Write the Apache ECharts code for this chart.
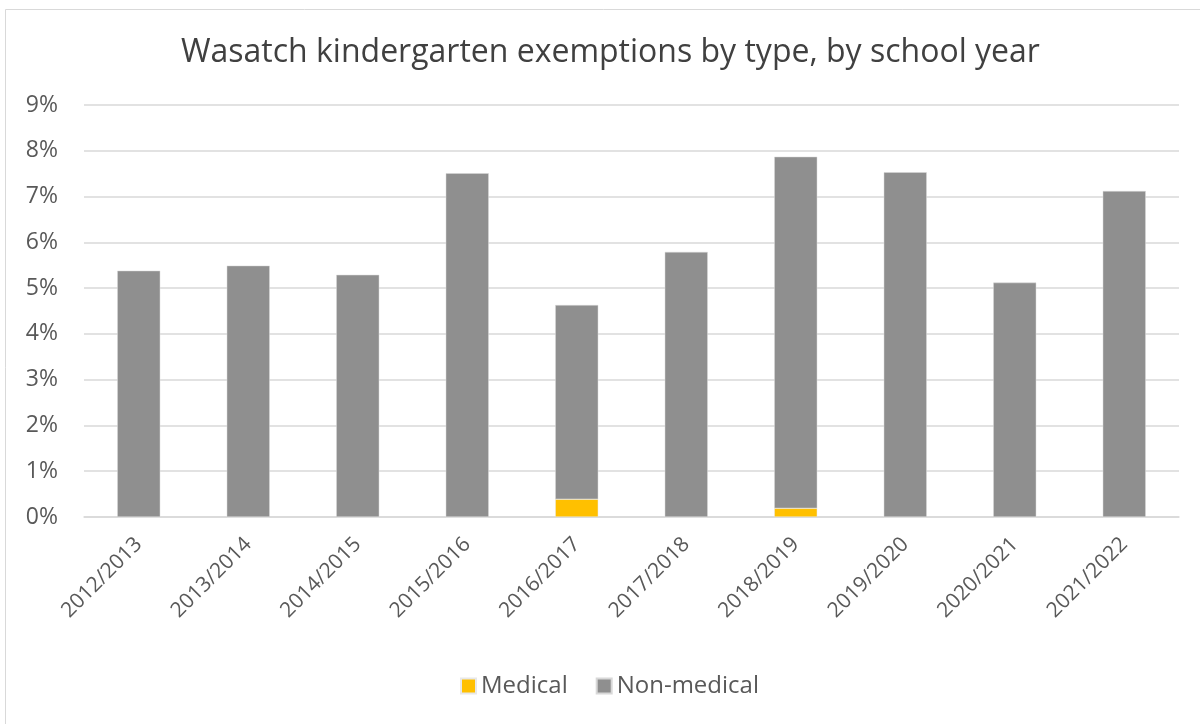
<!DOCTYPE html>
<html>
<head>
<meta charset="utf-8">
<script src="https://cdn.jsdelivr.net/npm/echarts@6/dist/echarts.min.js"></script>
<style>
html,body{margin:0;padding:0;background:#fff;}
#chart{width:1200px;height:724px;}
</style>
</head>
<body>
<div id="chart"></div>
<script>
const categories = ['2012/2013','2013/2014','2014/2015','2015/2016','2016/2017','2017/2018','2018/2019','2019/2020','2020/2021','2021/2022'];
const medical = [0, 0, 0, 0, 0.39, 0, 0.19, 0, 0, 0];
const nonMedical = [5.38, 5.49, 5.29, 7.51, 4.24, 5.79, 7.68, 7.53, 5.12, 7.12];
const yTicks = [0,1,2,3,4,5,6,7,8,9];

const chart = echarts.init(document.getElementById('chart'));
const font = '"Open Sans", "Noto Sans", sans-serif';
chart.setOption({
  animation: false,
  backgroundColor: '#fff',
  graphic: [{
    type: 'rect', left: 3, top: 7, silent: true,
    shape: { width: 1300, height: 800 },
    style: { fill: 'none', stroke: '#d9d9d9', lineWidth: 1 }
  }],
  title: {
    text: 'Wasatch kindergarten exemptions by type, by school year',
    left: 176, top: 32,
    textStyle: { fontFamily: font, fontSize: 32, fontWeight: 'normal', color: '#404040' }
  },
  legend: {
    bottom: 21, left: 455,
    itemWidth: 15, itemHeight: 15, itemGap: 28,
    icon: 'rect',
    textStyle: { fontFamily: font, fontSize: 24, color: '#595959' },
    data: ['Medical', 'Non-medical']
  },
  grid: { left: 84, right: 21, top: 105, bottom: 207 },
  xAxis: {
    type: 'category',
    data: categories,
    axisLine: { lineStyle: { color: '#d9d9d9', width: 1.5 } },
    axisTick: { show: false },
    axisLabel: { rotate: 45, margin: 24, fontFamily: font, fontSize: 21, color: '#595959' }
  },
  yAxis: {
    type: 'value', min: yTicks[0], max: yTicks[yTicks.length - 1], interval: 1,
    axisLine: { show: false }, axisTick: { show: false },
    splitLine: { lineStyle: { color: '#d9d9d9', width: 1.5 } },
    axisLabel: { formatter: '{value}%', margin: 26, fontFamily: font, fontSize: 23, color: '#595959' }
  },
  series: [
    { name: 'Medical', type: 'bar', stack: 'a', data: medical, barWidth: 43,
      itemStyle: { color: '#ffc000', borderColor: '#e8e8e8', borderWidth: 0.5 } },
    { name: 'Non-medical', type: 'bar', stack: 'a', data: nonMedical, barWidth: 43,
      itemStyle: { color: '#8f8f8f', borderColor: '#d8d8d8', borderWidth: 0.5 } }
  ]
});
</script>
</body>
</html>
